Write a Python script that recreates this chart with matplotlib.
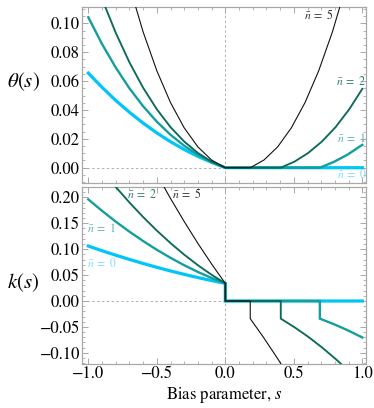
import matplotlib
matplotlib.use("Agg")
import matplotlib.pyplot as plt
from matplotlib.ticker import MultipleLocator, FuncFormatter

plt.rcParams['font.family'] = ['STIXGeneral', 'DejaVu Serif']
plt.rcParams['mathtext.fontset'] = 'stix'

# ---------------- data ----------------
s_neg = [-1.0, -0.9, -0.8, -0.7, -0.6, -0.5, -0.4, -0.3, -0.2, -0.1, 0.0]

theta_neg_n0 = [0.0655, 0.0557, 0.0466, 0.0384, 0.0309, 0.0241, 0.0180, 0.0126, 0.0078, 0.0037, 0.0]
theta_neg_n1 = [0.1042, 0.0857, 0.0694, 0.0550, 0.0426, 0.0319, 0.0228, 0.0152, 0.0089, 0.0039, 0.0]
theta_neg_n2 = [0.1439, 0.1170, 0.0935, 0.0730, 0.0554, 0.0405, 0.0281, 0.0181, 0.0102, 0.0042, 0.0]
theta_neg_n5 = [0.2548, 0.2062, 0.1634, 0.1261, 0.0941, 0.0672, 0.0451, 0.0276, 0.0144, 0.0053, 0.0]

k_neg_n0 = [0.106, 0.097, 0.0884, 0.0802, 0.0724, 0.065, 0.058, 0.0514, 0.0452, 0.0394, 0.034]
k_neg_n1 = [0.196, 0.174, 0.1532, 0.1338, 0.1157, 0.0988, 0.0833, 0.069, 0.056, 0.0444, 0.034]
k_neg_n2 = [0.2857, 0.2519, 0.2201, 0.1901, 0.1621, 0.1359, 0.1117, 0.0894, 0.069, 0.0506, 0.034]
k_neg_n5 = [0.5155, 0.4566, 0.400, 0.3459, 0.2941, 0.2448, 0.1978, 0.1533, 0.1111, 0.0714, 0.034]

# branches beyond the critical bias s_c (s > 0)
s_pos_n0 = [1.0]
theta_pos_n0 = [0.0]
k_pos_n0 = [0.0]

s_pos_n1 = [0.69, 0.79, 0.89, 0.99, 1.0]
theta_pos_n1 = [0.0, 0.0039, 0.0089, 0.0152, 0.0158]
k_pos_n1 = [-0.034, -0.0444, -0.056, -0.069, -0.0704]

s_pos_n2 = [0.405, 0.505, 0.605, 0.705, 0.805, 0.905, 1.0]
theta_pos_n2 = [0.0, 0.0042, 0.0102, 0.0181, 0.0281, 0.0405, 0.0546]
k_pos_n2 = [-0.034, -0.0506, -0.069, -0.0894, -0.1117, -0.1359, -0.1607]

s_pos_n5 = [0.182, 0.282, 0.382, 0.482, 0.582, 0.682, 0.782, 0.882]
theta_pos_n5 = [0.0, 0.0053, 0.0144, 0.0276, 0.0451, 0.0672, 0.0941, 0.1261]
k_pos_n5 = [-0.034, -0.0714, -0.1111, -0.1533, -0.1978, -0.2448, -0.2941, -0.3459]

labels = [r'$\bar{n}\;=\;0$', r'$\bar{n}\;=\;1$', r'$\bar{n}\;=\;2$', r'$\bar{n}\;=\;5$']
line_colors = ['#00c6f8', '#149e9c', '#0b6a58', '#111111']
label_colors = ['#7fdcff', '#5fb3b0', '#2f7c6c', '#333333']
line_widths = [2.3, 1.7, 1.35, 0.8]

series = [
    (theta_neg_n0, k_neg_n0, s_pos_n0, theta_pos_n0, k_pos_n0),
    (theta_neg_n1, k_neg_n1, s_pos_n1, theta_pos_n1, k_pos_n1),
    (theta_neg_n2, k_neg_n2, s_pos_n2, theta_pos_n2, k_pos_n2),
    (theta_neg_n5, k_neg_n5, s_pos_n5, theta_pos_n5, k_pos_n5),
]

# ---------------- figure ----------------
W, H = 374, 408
fig = plt.figure(figsize=(W / 100, H / 100), dpi=100)
ax1 = fig.add_axes([82 / W, 1 - 183 / H, 284 / W, 176 / H])
ax2 = fig.add_axes([82 / W, 1 - 364 / H, 284 / W, 177 / H])

frame_col = '#a8a8a8'
grid_col = '#b0b0b0'

for i, (th_n, k_n, sp, th_p, k_p) in enumerate(series):
    s_th = s_neg + sp
    th = th_n + th_p
    if len(sp) > 1:
        s_k = s_neg + [0.0, sp[0]] + sp
        kk = k_n + [0.0, 0.0] + k_p
    else:
        s_k = s_neg + [0.0] + sp
        kk = k_n + [0.0] + k_p
    ax1.plot(s_th, th, color=line_colors[i], lw=line_widths[i],
             solid_joinstyle='round', zorder=3 + i)
    ax2.plot(s_k, kk, color=line_colors[i], lw=line_widths[i],
             solid_joinstyle='miter', zorder=3 + i)


def minus_fmt(fmt):
    return FuncFormatter(lambda v, p: (fmt % v).replace('-', '\u2212'))


for ax in (ax1, ax2):
    ax.set_xlim(-1.046, 1.027)
    ax.axvline(0, color=grid_col, lw=0.7, ls=(0, (2.5, 2.5)), zorder=1)
    ax.axhline(0, color=grid_col, lw=0.7, ls=(0, (2.5, 2.5)), zorder=1)
    for sp_ in ax.spines.values():
        sp_.set_color(frame_col)
        sp_.set_linewidth(0.9)
    ax.xaxis.set_major_locator(MultipleLocator(0.5))
    ax.xaxis.set_minor_locator(MultipleLocator(0.1))
    ax.tick_params(which='both', direction='in', top=True, right=True,
                   color=frame_col, labelsize=12, pad=1.5)
    ax.tick_params(which='major', length=4.5, width=0.7)
    ax.tick_params(which='minor', length=2.5, width=0.6)

ax1.set_ylim(-0.0106, 0.1113)
ax1.yaxis.set_major_locator(MultipleLocator(0.02))
ax1.yaxis.set_minor_locator(MultipleLocator(0.005))
ax1.yaxis.set_major_formatter(minus_fmt('%.2f'))
ax1.tick_params(axis='x', labelbottom=False)

ax2.set_ylim(-0.1215, 0.2199)
ax2.yaxis.set_major_locator(MultipleLocator(0.05))
ax2.yaxis.set_minor_locator(MultipleLocator(0.01))
ax2.yaxis.set_major_formatter(minus_fmt('%.2f'))
ax2.xaxis.set_major_formatter(minus_fmt('%.1f'))
ax2.tick_params(axis='x', pad=1.5)

# curve labels
lab_fs = 8.5
ax1.text(0.68, 0.1055, labels[3], color=label_colors[3], fontsize=lab_fs, ha='center', va='center')
ax1.text(0.92, 0.0596, labels[2], color=label_colors[2], fontsize=lab_fs, ha='center', va='center')
ax1.text(0.92, 0.0203, labels[1], color=label_colors[1], fontsize=lab_fs, ha='center', va='center')
ax1.text(0.92, -0.0050, labels[0], color=label_colors[0], fontsize=lab_fs, ha='center', va='center')

ax2.text(-0.608, 0.206, labels[2], color=label_colors[2], fontsize=lab_fs, ha='center', va='center')
ax2.text(-0.285, 0.206, labels[3], color=label_colors[3], fontsize=lab_fs, ha='center', va='center')
ax2.text(-0.905, 0.140, labels[1], color=label_colors[1], fontsize=lab_fs, ha='center', va='center')
ax2.text(-0.905, 0.0727, labels[0], color=label_colors[0], fontsize=lab_fs, ha='center', va='center')

fig.text(23 / W, 1 - 82 / H, r'$\theta(s)$', fontsize=15, ha='center', va='center')
fig.text(23 / W, 1 - 283 / H, r'$k(s)$', fontsize=15, ha='center', va='center')
fig.text(224 / W, 1 - 395 / H, r'Bias parameter, $s$', fontsize=12, ha='center', va='center')

fig.savefig('out.png', dpi=100)
